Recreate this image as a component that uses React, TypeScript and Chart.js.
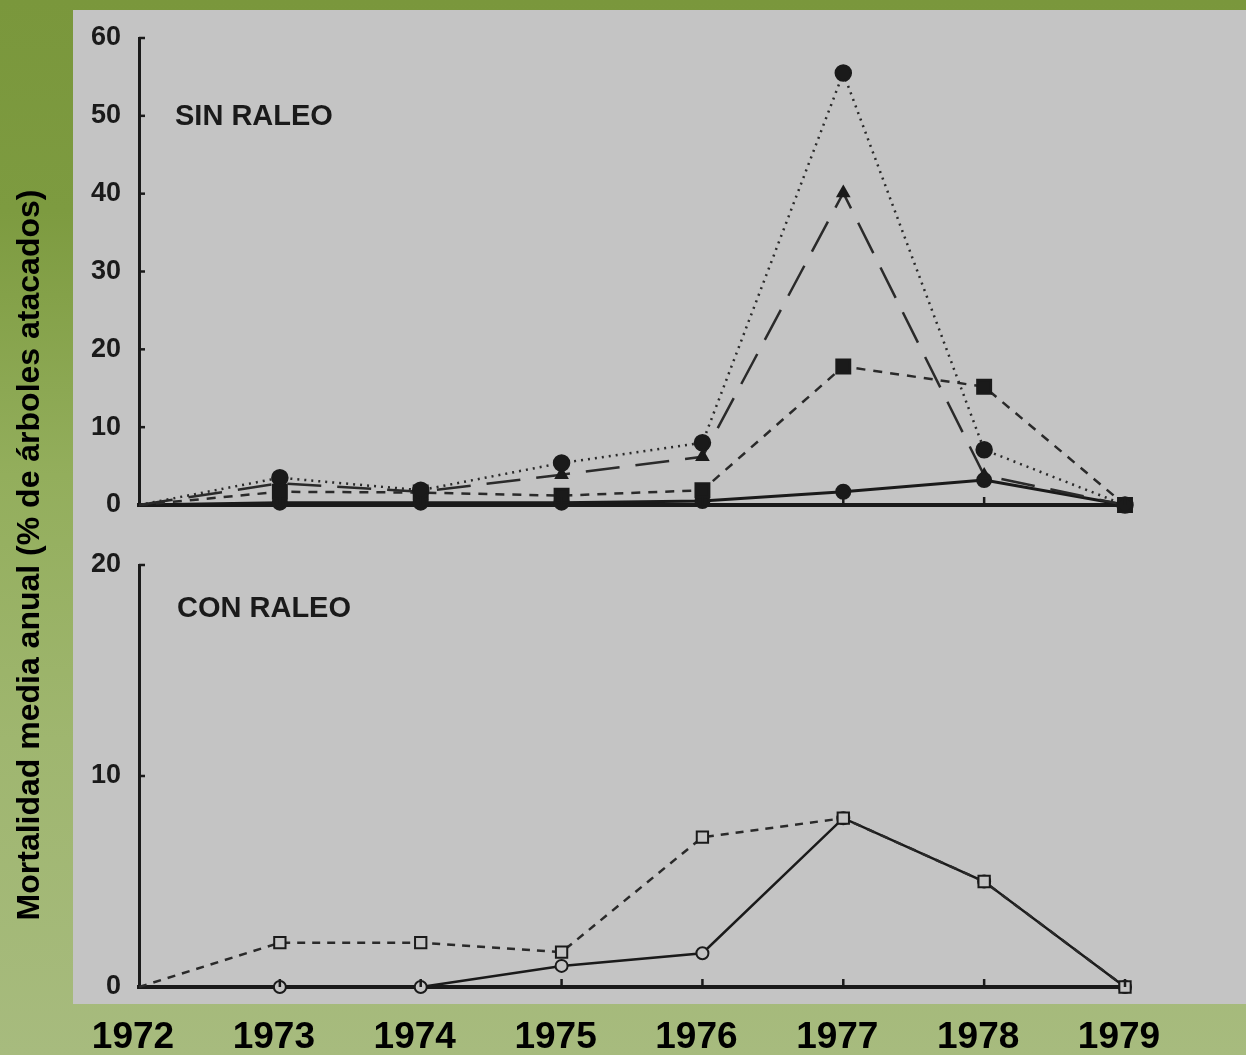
import React, { useEffect, useRef } from "react";
import { Chart, registerables } from "chart.js";

Chart.register(...registerables);

const years = ["1972", "1973", "1974", "1975", "1976", "1977", "1978", "1979"];

// SIN RALEO (top panel)
const sinDottedCircles = [0, 3.5, 1.9, 5.4, 8.0, 55.5, 7.1, 0];
const sinLongDashTriangles = [0, 2.8, 1.7, 3.9, 6.2, 40.1, 3.8, 0];
const sinShortDashSquares = [0, 1.7, 1.6, 1.2, 1.9, 17.8, 15.2, 0];
const sinSolidCircles = [0, 0.3, 0.3, 0.3, 0.5, 1.7, 3.2, 0];
const sinTicks = [0, 10, 20, 30, 40, 50, 60];

// CON RALEO (bottom panel)
const conDashedSquares = [0, 2.1, 2.1, 1.65, 7.1, 8.0, 5.0, 0];
const conSolidCircles = [0, 0, 0, 1.0, 1.6, 8.0, 5.0, 0];
const conTicks = [0, 10, 20];

const FONT = "'Liberation Sans', Arial, sans-serif";
const PANEL = "#c4c4c4";
const INK = "#1a1a1a";

const innerTicks = {
  id: "innerTicks",
  afterDraw(chart: any) {
    const { ctx, chartArea } = chart;
    const xs = chart.scales.x;
    const ys = chart.scales.y;
    ctx.save();
    ctx.strokeStyle = INK;
    ctx.lineWidth = 2.5;
    xs.ticks.forEach((_t: any, i: number) => {
      if (i === 0) return;
      const px = xs.getPixelForTick(i);
      ctx.beginPath();
      ctx.moveTo(px, chartArea.bottom);
      ctx.lineTo(px, chartArea.bottom - 8);
      ctx.stroke();
    });
    ys.ticks.forEach((_t: any, i: number) => {
      if (i === 0) return;
      const py = ys.getPixelForTick(i);
      ctx.beginPath();
      ctx.moveTo(chartArea.left, py);
      ctx.lineTo(chartArea.left + 6, py);
      ctx.stroke();
    });
    ctx.restore();
  },
};

const radiusSkipFirst = (r: number) => (c: any) => (c.dataIndex === 0 ? 0 : r);

const noPad = (s: any) => {
  s.paddingTop = 0;
  s.paddingBottom = 0;
  s.paddingLeft = 0;
  s.paddingRight = 0;
};

function useChart(ref: React.RefObject<HTMLCanvasElement | null>, make: () => any) {
  useEffect(() => {
    if (!ref.current) return;
    const chart = new Chart(ref.current, make());
    return () => chart.destroy();
  }, []);
}

export default function App() {
  const topRef = useRef<HTMLCanvasElement>(null);
  const botRef = useRef<HTMLCanvasElement>(null);

  useEffect(() => {
    document.body.style.margin = "0";
  }, []);

  useChart(topRef, () => ({
    type: "line",
    data: {
      labels: years,
      datasets: [
        {
          data: sinDottedCircles,
          borderColor: "#2a2a2a",
          borderWidth: 2.5,
          borderDash: [2, 5],
          pointStyle: "circle",
          pointRadius: radiusSkipFirst(7.5),
          pointBackgroundColor: INK,
          pointBorderColor: INK,
          clip: false,
        },
        {
          data: sinLongDashTriangles,
          borderColor: "#2a2a2a",
          borderWidth: 2.5,
          borderDash: [34, 16],
          pointStyle: "triangle",
          pointRadius: radiusSkipFirst(6),
          pointBackgroundColor: INK,
          pointBorderColor: INK,
          clip: false,
        },
        {
          data: sinShortDashSquares,
          borderColor: "#2a2a2a",
          borderWidth: 2.5,
          borderDash: [9, 8],
          pointStyle: "rect",
          pointRadius: radiusSkipFirst(9.5),
          pointBackgroundColor: INK,
          pointBorderColor: INK,
          clip: false,
        },
        {
          data: sinSolidCircles,
          borderColor: INK,
          borderWidth: 3,
          pointStyle: "circle",
          pointRadius: radiusSkipFirst(6.5),
          pointBackgroundColor: INK,
          pointBorderColor: INK,
          clip: false,
        },
      ],
    },
    options: {
      animation: false,
      responsive: false,
      events: [],
      layout: { padding: { left: 0, right: 121, top: 38, bottom: 15 } },
      plugins: { legend: { display: false }, tooltip: { enabled: false } },
      scales: {
        x: {
          type: "category",
          offset: false,
          grid: { display: false, drawTicks: false },
          border: { display: true, color: INK, width: 4 },
          ticks: { display: false },
          afterFit: (s: any) => {
            s.height = 0;
            noPad(s);
          },
        },
        y: {
          min: 0,
          max: 60,
          afterBuildTicks: (s: any) => {
            s.ticks = sinTicks.map((v) => ({ value: v }));
          },
          grid: { display: false, drawTicks: false },
          border: { display: true, color: INK, width: 3 },
          ticks: {
            padding: 18,
            color: INK,
            font: { family: FONT, size: 27, weight: "bold" },
          },
          afterFit: (s: any) => {
            s.width = 139;
            noPad(s);
          },
        },
      },
    },
    plugins: [innerTicks],
  }));

  useChart(botRef, () => ({
    type: "line",
    data: {
      labels: years,
      datasets: [
        {
          data: conDashedSquares,
          borderColor: "#2a2a2a",
          borderWidth: 2.5,
          borderDash: [8, 7],
          pointStyle: "rect",
          pointRadius: radiusSkipFirst(8),
          pointBackgroundColor: PANEL,
          pointBorderColor: INK,
          pointBorderWidth: 2,
          clip: false,
        },
        {
          data: conSolidCircles,
          borderColor: INK,
          borderWidth: 2.5,
          pointStyle: "circle",
          pointRadius: radiusSkipFirst(6),
          pointBackgroundColor: PANEL,
          pointBorderColor: INK,
          pointBorderWidth: 2,
          clip: false,
        },
      ],
    },
    options: {
      animation: false,
      responsive: false,
      events: [],
      layout: { padding: { left: 0, right: 121, top: 45, bottom: 0 } },
      plugins: { legend: { display: false }, tooltip: { enabled: false } },
      scales: {
        x: {
          type: "category",
          offset: false,
          grid: { display: false, drawTicks: false },
          border: { display: true, color: INK, width: 4 },
          ticks: {
            padding: 29,
            labelOffset: -6,
            color: "#000",
            maxRotation: 0,
            autoSkip: false,
            font: { family: FONT, size: 37, weight: "bold" },
          },
          afterFit: (s: any) => {
            s.height = 68;
            noPad(s);
          },
        },
        y: {
          min: 0,
          max: 20,
          afterBuildTicks: (s: any) => {
            s.ticks = conTicks.map((v) => ({ value: v }));
          },
          grid: { display: false, drawTicks: false },
          border: { display: true, color: INK, width: 3 },
          ticks: {
            padding: 18,
            color: INK,
            font: { family: FONT, size: 27, weight: "bold" },
          },
          afterFit: (s: any) => {
            s.width = 139;
            noPad(s);
          },
        },
      },
    },
    plugins: [innerTicks],
  }));

  return (
    <div
      style={{
        position: "absolute",
        left: 0,
        top: 0,
        width: 1246,
        height: 1055,
        overflow: "hidden",
        background:
          "linear-gradient(180deg, #7a973c 0%, #7d9b40 20%, #93ae5c 45%, #9fb66f 70%, #a7bb7e 100%)",
        fontFamily: FONT,
      }}
    >
      <div
        style={{
          position: "absolute",
          left: 73,
          top: 10,
          width: 1173,
          height: 994,
          background: PANEL,
        }}
      />
      <canvas
        ref={topRef}
        width={1246}
        height={520}
        style={{ position: "absolute", left: 0, top: 0, width: 1246, height: 520 }}
      />
      <canvas
        ref={botRef}
        width={1246}
        height={535}
        style={{ position: "absolute", left: 0, top: 520, width: 1246, height: 535 }}
      />
      <div
        style={{
          position: "absolute",
          left: 175,
          top: 101,
          fontSize: 29,
          lineHeight: "29px",
          fontWeight: "bold",
          color: INK,
          whiteSpace: "nowrap",
        }}
      >
        SIN RALEO
      </div>
      <div
        style={{
          position: "absolute",
          left: 177,
          top: 593,
          fontSize: 29,
          lineHeight: "29px",
          fontWeight: "bold",
          color: INK,
          whiteSpace: "nowrap",
        }}
      >
        CON RALEO
      </div>
      <div
        style={{
          position: "absolute",
          left: 28 - 450,
          top: 555 - 18,
          width: 900,
          height: 36,
          lineHeight: "36px",
          textAlign: "center",
          fontSize: 32,
          fontWeight: "bold",
          color: "#000",
          whiteSpace: "nowrap",
          transform: "rotate(-90deg)",
          transformOrigin: "center center",
        }}
      >
        Mortalidad media anual (% de árboles atacados)
      </div>
    </div>
  );
}
